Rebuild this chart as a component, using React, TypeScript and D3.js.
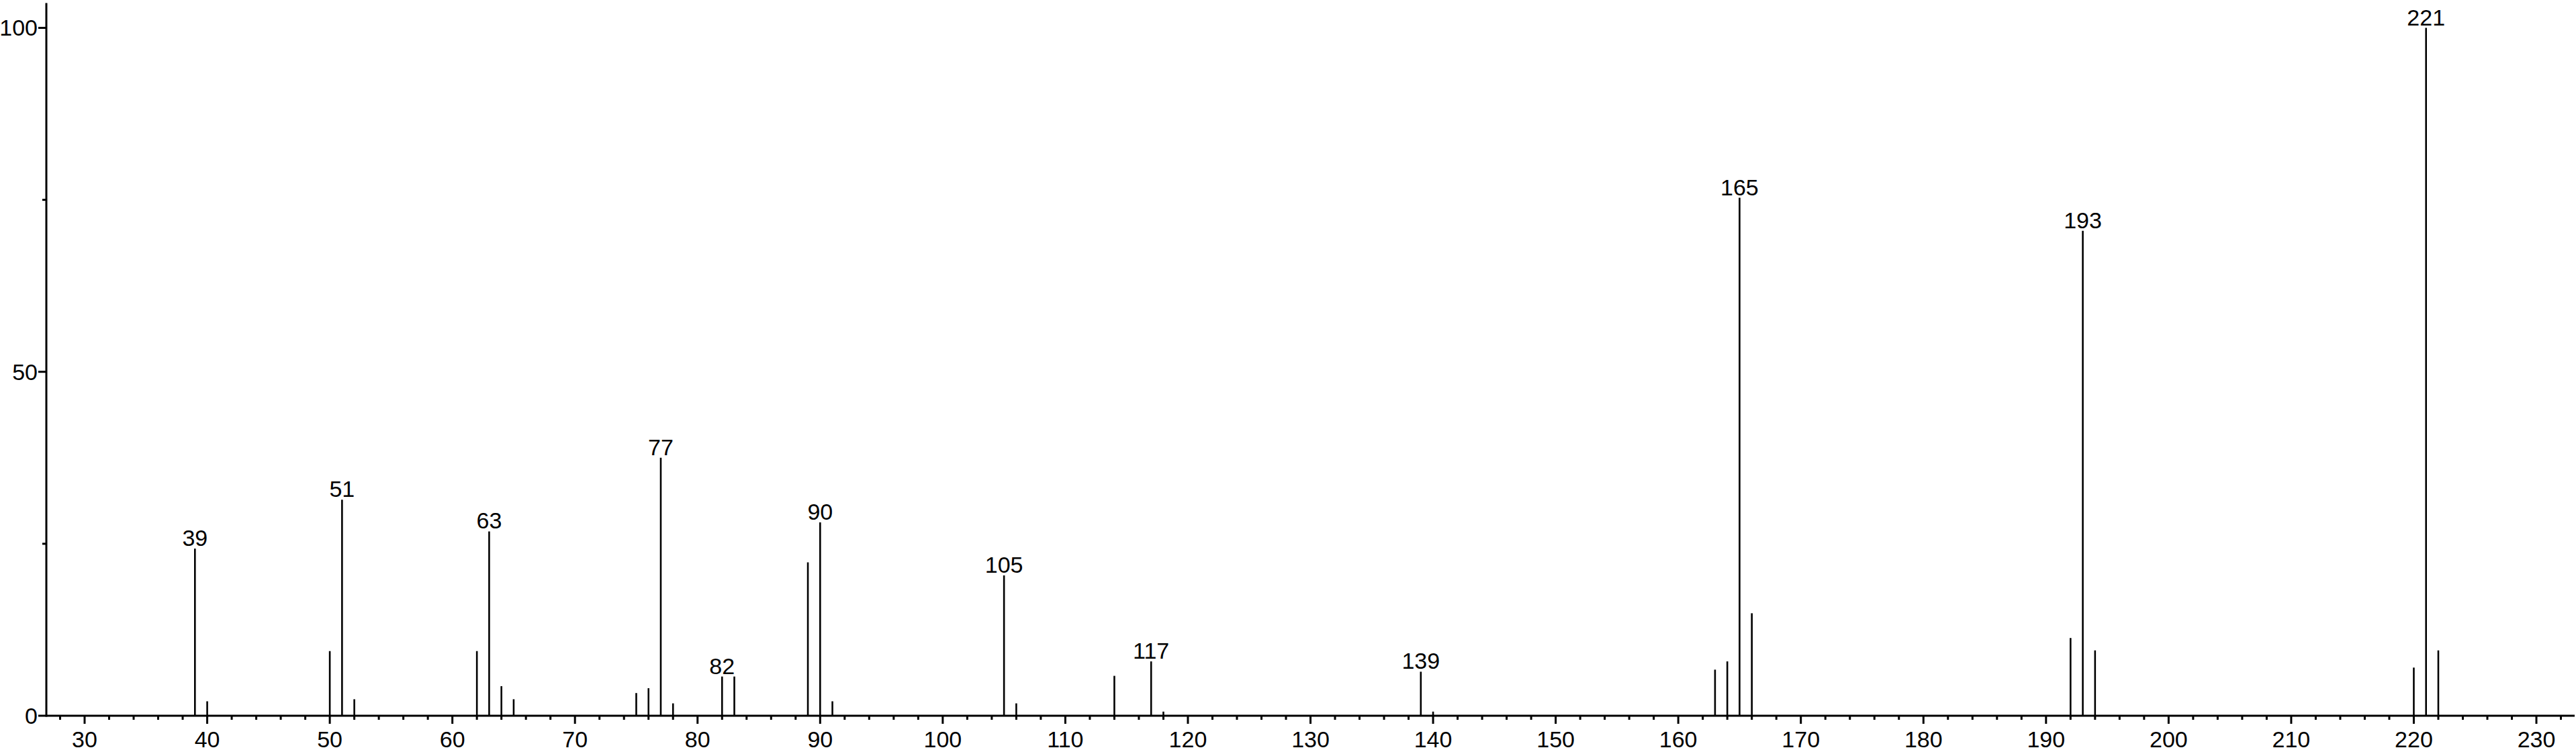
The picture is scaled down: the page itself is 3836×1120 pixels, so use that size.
import React from "react";
import * as d3 from "d3";

const mzValues = [39, 40, 50, 51, 52, 62, 63, 64, 65, 75, 76, 77, 78, 82, 83, 89, 90, 91, 105, 106, 114, 117, 118, 139, 140, 163, 164, 165, 166, 192, 193, 194, 220, 221, 222];
const intensities = [24.3, 2.1, 9.4, 31.4, 2.4, 9.4, 26.8, 4.3, 2.4, 3.3, 4.0, 37.5, 1.8, 5.7, 5.7, 22.3, 28.1, 2.1, 20.4, 1.8, 5.8, 7.9, 0.6, 6.4, 0.6, 6.7, 7.9, 75.3, 14.9, 11.3, 70.5, 9.5, 7.0, 100, 9.5];
const labeledPeaks = [39, 51, 63, 77, 82, 90, 105, 117, 139, 165, 193, 221];
const xMajorTicks = [30, 40, 50, 60, 70, 80, 90, 100, 110, 120, 130, 140, 150, 160, 170, 180, 190, 200, 210, 220, 230];
const yMajorTicks = [0, 50, 100];
const yMinorTicks = [25, 75];

const W = 3836;
const H = 1120;
const FONT = "'Liberation Sans', Arial, sans-serif";

export default function App() {
  const x = d3.scaleLinear().domain([30, 230]).range([126, 3777]);
  const y = d3.scaleLinear().domain([0, 100]).range([1066, 41.5]);
  const xStart = 69;
  const xEnd = 3834;
  const minorX = d3.range(28, 234, 2).filter((v) => v % 10 !== 0 && x(v) > xStart + 2 && x(v) < xEnd);
  const yTop = y(103.6);
  const base = y(0);
  const peakMap = new Map(mzValues.map((m, i) => [m, intensities[i]]));

  return (
    <svg width={W} height={H} style={{ position: "absolute", left: 0, top: 0, background: "#fff" }}>
      <rect x={0} y={0} width={W} height={H} fill="#fff" />
      {/* peaks */}
      {mzValues.map((m, i) => (
        <line key={"p" + m} x1={x(m)} x2={x(m)} y1={base} y2={y(intensities[i])} stroke="#000" strokeWidth={2.6} />
      ))}
      {/* peak labels */}
      {labeledPeaks.map((m) => (
        <text key={"l" + m} x={x(m)} y={y(peakMap.get(m) as number) - 4} textAnchor="middle" fontFamily={FONT} fontSize={34} fill="#000">
          {m}
        </text>
      ))}
      {/* y axis */}
      <line x1={xStart} x2={xStart} y1={yTop} y2={base + 1.5} stroke="#000" strokeWidth={3} />
      {yMajorTicks.map((v) => (
        <g key={"ym" + v}>
          <line x1={xStart - 12} x2={xStart} y1={y(v)} y2={y(v)} stroke="#000" strokeWidth={3} />
          <text x={xStart - 13} y={y(v)} dy="0.35em" textAnchor="end" fontFamily={FONT} fontSize={34} fill="#000">
            {v}
          </text>
        </g>
      ))}
      {yMinorTicks.map((v) => (
        <line key={"yn" + v} x1={xStart - 6} x2={xStart} y1={y(v)} y2={y(v)} stroke="#000" strokeWidth={3} />
      ))}
      {/* x axis */}
      <line x1={xStart} x2={xEnd} y1={base} y2={base} stroke="#000" strokeWidth={3} />
      {xMajorTicks.map((v) => (
        <g key={"xm" + v}>
          <line x1={x(v)} x2={x(v)} y1={base} y2={base + 12} stroke="#000" strokeWidth={3} />
          <text x={x(v)} y={1113} textAnchor="middle" fontFamily={FONT} fontSize={34} fill="#000">
            {v}
          </text>
        </g>
      ))}
      {minorX.map((v) => (
        <line key={"xn" + v} x1={x(v)} x2={x(v)} y1={base} y2={base + 6} stroke="#000" strokeWidth={3} />
      ))}
    </svg>
  );
}
